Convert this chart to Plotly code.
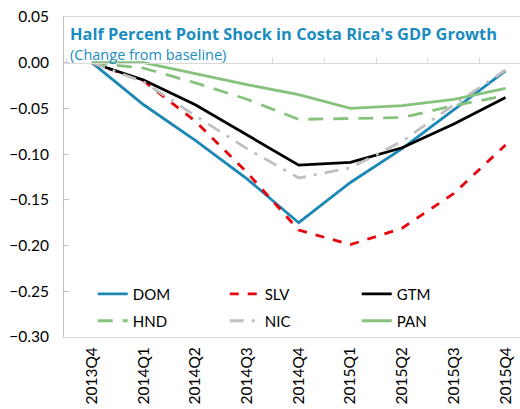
import plotly.graph_objects as go

quarters = ["2013Q4", "2014Q1", "2014Q2", "2014Q3", "2014Q4",
            "2015Q1", "2015Q2", "2015Q3", "2015Q4"]

dom = [0.0, -0.046, -0.085, -0.127, -0.175, -0.131, -0.094, -0.051, -0.009]
slv = [0.0, -0.020, -0.064, -0.120, -0.183, -0.199, -0.181, -0.143, -0.090]
gtm = [0.0, -0.019, -0.046, -0.079, -0.112, -0.109, -0.093, -0.067, -0.038]
hnd = [0.0, -0.006, -0.022, -0.040, -0.062, -0.061, -0.060, -0.047, -0.036]
nic = [0.0, -0.021, -0.058, -0.094, -0.126, -0.115, -0.086, -0.046, -0.008]
pan = [0.0, 0.000, -0.012, -0.024, -0.035, -0.050, -0.047, -0.040, -0.028]

FONT = "Lato"
TITLE_FONT = "Open Sans"
TITLE_BLUE = "#1a8cbf"
AXIS_GREY = "#bfbfbf"

# name, values, colour, dash, legend row
series = [
    ("DOM", dom, "#1a87b5", "solid", "legend"),
    ("SLV", slv, "#e8000b", "dash", "legend"),
    ("GTM", gtm, "#000000", "solid", "legend"),
    ("HND", hnd, "#86c27c", "15px,10px", "legend2"),
    ("NIC", nic, "#bfbfbf", "14px,8px,3px,8px", "legend2"),
    ("PAN", pan, "#86c27c", "solid", "legend2"),
]

fig = go.Figure()
for name, values, colour, dash, legend in series:
    fig.add_trace(go.Scatter(
        x=quarters, y=values, name=name, mode="lines", legend=legend,
        line=dict(color=colour, width=2.8, dash=dash),
    ))

# invisible trace so the zero-line axis (ticks between quarters) gets drawn
fig.add_trace(go.Scatter(
    x=quarters, y=[None] * len(quarters), xaxis="x2", yaxis="y",
    showlegend=False, hoverinfo="skip", mode="lines",
))

y_min, y_max = -0.30, 0.05
zero_pos = (0 - y_min) / (y_max - y_min)

legend_style = dict(
    orientation="h", xanchor="left", yanchor="middle",
    entrywidth=87, entrywidthmode="pixels",
    font=dict(family=FONT, size=15, color="#000000"),
    bgcolor="rgba(0,0,0,0)",
)

fig.update_layout(
    width=520, height=409,
    margin=dict(l=64, r=0, t=17, b=72),
    paper_bgcolor="white", plot_bgcolor="white",
    font=dict(family=FONT, size=15, color="#000000"),
    showlegend=True,
    legend=dict(x=0.063, y=0.134, **legend_style),
    legend2=dict(x=0.063, y=0.05, **legend_style),
    xaxis=dict(
        type="category", range=[-0.54, 8.28],
        showline=True, linecolor="#d9d9d9", linewidth=1, mirror=True,
        ticks="", tickangle=-90, showgrid=False, zeroline=False,
        ticklabelstandoff=3,
        tickfont=dict(family=FONT, size=15.5),
    ),
    xaxis2=dict(
        type="category", overlaying="x", matches="x", anchor="free",
        position=zero_pos, side="top",
        showline=True, linecolor="#d9d9d9", linewidth=1,
        ticks="outside", tickson="boundaries", ticklen=5, tickcolor="#d9d9d9",
        showticklabels=False, showgrid=False, zeroline=False,
    ),
    yaxis=dict(
        range=[y_min, y_max], dtick=0.05, tickformat=".2f",
        showline=True, linecolor=AXIS_GREY, linewidth=1,
        ticks="inside", ticklen=5, tickcolor=AXIS_GREY,
        ticklabelstandoff=11,
        showgrid=False, zeroline=False,
        tickfont=dict(family=FONT, size=15.5),
    ),
    annotations=[
        dict(
            text="<b>Half Percent Point Shock in Costa Rica's GDP Growth</b>",
            xref="paper", yref="paper", x=0.008, y=0.99,
            xanchor="left", yanchor="top", showarrow=False,
            font=dict(family=TITLE_FONT, size=16.4, color=TITLE_BLUE),
        ),
        dict(
            text="(Change from baseline)",
            xref="paper", yref="paper", x=0.008, y=0.92,
            xanchor="left", yanchor="top", showarrow=False,
            font=dict(family=TITLE_FONT, size=14.5, color=TITLE_BLUE),
        ),
        # bottom of a cropped heading above the chart
        dict(
            text="<b>g</b>",
            xref="paper", yref="paper", x=0.30, y=1.05,
            xanchor="center", yanchor="bottom", showarrow=False,
            font=dict(family=FONT, size=26, color="#000000"),
        ),
    ],
)

fig.write_html(
    "out.html",
    config={"displayModeBar": False},
    post_script="document.body.style.margin='0px';",
)
